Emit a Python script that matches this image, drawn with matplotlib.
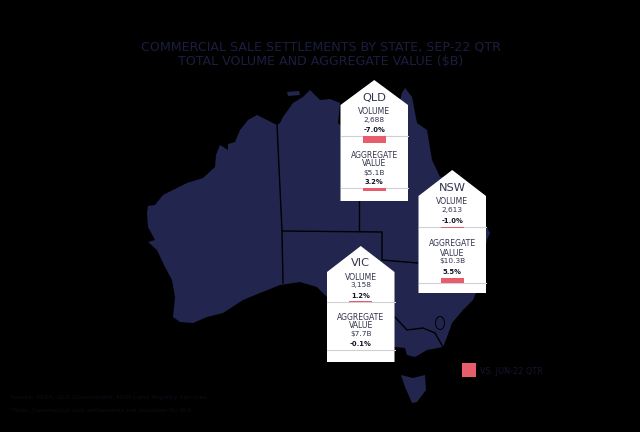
import matplotlib
matplotlib.use("Agg")
import matplotlib.pyplot as plt
from matplotlib.patches import Polygon, Rectangle, Ellipse

# traced in image pixels
mainland_x = [277, 267, 257, 248, 240, 235, 228, 228, 220, 216, 215, 203, 187, 177, 163, 155, 148, 147, 148, 155, 148, 157,
              165, 172, 175, 173, 180, 193, 207, 223, 243, 260, 280, 300, 317, 330, 350, 375, 395, 405, 407, 415, 427, 443,
              447, 452, 463, 473, 476, 487, 490, 480, 465, 452, 440, 432, 427, 417, 412, 405, 402, 395, 380, 360, 340, 338,
              340, 330, 320, 310, 303, 293, 283, 280]
mainland_y = [125, 120, 115, 120, 130, 142, 144, 150, 145, 155, 167, 178, 183, 188, 195, 205, 206, 213, 227, 240, 242, 250,
              267, 280, 297, 317, 322, 323, 317, 313, 300, 293, 285, 282, 287, 300, 312, 330, 347, 348, 355, 357, 350, 347,
              337, 323, 310, 300, 293, 240, 233, 215, 195, 176, 177, 160, 130, 123, 97, 88, 93, 120, 135, 135, 125, 123,
              103, 99, 100, 90, 97, 103, 117, 123]
tasmania_x = [401, 413, 425, 426, 417, 412, 405]
tasmania_y = [375, 378, 375, 390, 402, 403, 387]
melville_x = [287, 299, 300, 288]
melville_y = [92, 91, 95, 96]

border_wa_x = [277, 282, 283]
border_wa_y = [125, 231, 283]
border_sa_x = [282, 382, 382, 418]
border_sa_y = [231, 232, 260, 263]
border_nt_x = [359, 359]
border_nt_y = [195, 231]
border_vic_x = [395, 407, 423, 435, 443]
border_vic_y = [317, 330, 328, 333, 347]

states = ["QLD", "NSW", "VIC"]
volumes = ["2,688", "2,613", "3,158"]
volume_chg = [-7.0, -1.0, 1.2]
values = ["$5.1B", "$10.3B", "$7.7B"]
value_chg = [3.2, 5.5, -0.1]
vol_labels = ["-7.0%", "-1.0%", "1.2%"]
val_labels = ["3.2%", "5.5%", "-0.1%"]

title = "COMMERCIAL SALE SETTLEMENTS BY STATE, SEP-22 QTR\nTOTAL VOLUME AND AGGREGATE VALUE ($B)"
legend_label = "VS. JUN-22 QTR"
source = "Source: PEXA, QLD Government, NSW Land Registry Services"
note = "*Note: Commercial sale settlements not available for W.A."

NAVY = "#22264f"
PINK = "#e85d6c"
INK = "#33344f"
PX_PER_PCT = 0.95

# left, peak, eave, bottom, divider 1, divider 2, first text row
boxes = [(340.5, 80, 105, 201, 136, 188, 98),
         (418.5, 170, 196, 293, 227, 283, 188),
         (327, 246, 272, 362, 302, 350, 263)]
# rows relative to the state label
rows = {"QLD": [13, 22, 32, 57, 66, 75, 84],
        "NSW": [14, 22, 33, 56, 65, 73, 84],
        "VIC": [14, 22, 33, 54, 62, 71, 81]}
# whether the change bar sits above its divider
bar_up = {"QLD": (False, False), "NSW": (False, True), "VIC": (True, False)}

fig = plt.figure(figsize=(6.4, 4.32), dpi=100, facecolor="black")
ax = fig.add_axes([0, 0, 1, 1])
ax.set_xlim(0, 640)
ax.set_ylim(432, 0)
ax.axis("off")

for xs, ys in [(mainland_x, mainland_y), (tasmania_x, tasmania_y), (melville_x, melville_y)]:
    ax.add_patch(Polygon(list(zip(xs, ys)), closed=True, fc=NAVY, ec="none", zorder=1))
for xs, ys in [(border_wa_x, border_wa_y), (border_sa_x, border_sa_y), (border_nt_x, border_nt_y), (border_vic_x, border_vic_y)]:
    ax.plot(xs, ys, color="black", lw=1.0, zorder=2)
ax.add_patch(Ellipse((440, 323), 9, 13, fc=NAVY, ec="black", lw=0.7, zorder=2))

ax.text(321, 54.5, title, color="#1c1d3f", fontsize=9.1, ha="center", va="center", linespacing=1.15)

for i, state in enumerate(states):
    left, peak, eave, bottom, div1, div2, top = boxes[i]
    w = 67.5
    cx = left + w / 2
    ax.add_patch(Polygon([(cx, peak), (left + w, eave), (left + w, bottom), (left, bottom), (left, eave)],
                         closed=True, fc="white", ec="none", zorder=3))
    for y, chg, up in [(div1, volume_chg[i], bar_up[state][0]), (div2, value_chg[i], bar_up[state][1])]:
        ax.plot([left, left + w], [y, y], color="#cfcfd4", lw=0.8, zorder=4)
        h = abs(chg) * PX_PER_PCT
        ax.add_patch(Rectangle((cx - 11.5, y - h if up else y), 23, h, fc=PINK, ec="none", zorder=5))
    ax.text(cx, top, state, color=INK, fontsize=8.2, ha="center", va="center", zorder=6)
    r = rows[state]
    ax.text(cx, top + r[0], "VOLUME", color=INK, fontsize=5.6, ha="center", va="center", zorder=6)
    ax.text(cx, top + r[1], volumes[i], color=INK, fontsize=5.3, ha="center", va="center", zorder=6)
    ax.text(cx, top + r[2], vol_labels[i], color="#111122", fontsize=4.9, fontweight="bold", ha="center", va="center", zorder=6)
    ax.text(cx, top + r[3], "AGGREGATE", color=INK, fontsize=5.6, ha="center", va="center", zorder=6)
    ax.text(cx, top + r[4], "VALUE", color=INK, fontsize=5.6, ha="center", va="center", zorder=6)
    ax.text(cx, top + r[5], values[i], color=INK, fontsize=5.3, ha="center", va="center", zorder=6)
    ax.text(cx, top + r[6], val_labels[i], color="#111122", fontsize=4.9, fontweight="bold", ha="center", va="center", zorder=6)

ax.add_patch(Rectangle((462, 363), 14, 14, fc=PINK, ec="none"))
ax.text(480, 371, legend_label, color="#15162f", fontsize=5.9, ha="left", va="center")
ax.text(10, 398, source, color="#0d0d1a", fontsize=4.6, ha="left", va="center")
ax.text(10, 411, note, color="#0d0d1a", fontsize=4.5, ha="left", va="center")

fig.savefig("out.png", dpi=100, facecolor="black")
